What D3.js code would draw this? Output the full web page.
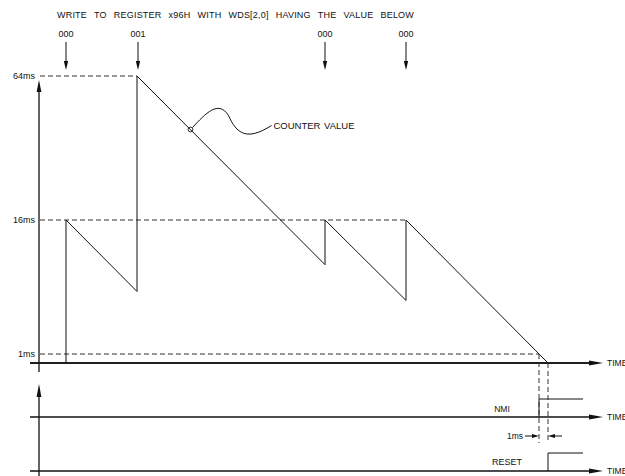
<!DOCTYPE html>
<html>
<head>
<meta charset="utf-8">
<script src="https://cdn.jsdelivr.net/npm/d3@7"></script>
<style>
  html, body { margin: 0; padding: 0; background: #fff; }
  svg { display: block; }
  text { font-family: "Liberation Sans", Arial, sans-serif; font-size: 8.5px; fill: #111; }
</style>
</head>
<body>
<svg id="chart" width="625" height="476"></svg>
<script>
// Watchdog counter timing: time in abstract ticks, counter in ms
const writeTimes = [27, 99, 286, 367];
const writeValues = ["000", "001", "000", "000"];
const counterTimes = [27, 27, 98, 98, 286, 286, 367, 367, 509];
const counterValues = [0, 16, 8, 64, 11, 16, 7, 16, 0];
const levelValues = [64, 16, 1];
const levelLabels = ["64ms", "16ms", "1ms"];
const levelEnds = [98, 367, 500];
const nmiTime = 500;
const resetTime = 509;
const signalEnd = 544;
const annotationTime = 151.5;
const title = "WRITE TO REGISTER x96H WITH WDS[2,0] HAVING THE VALUE BELOW";

const svg = d3.select("#chart");
const ink = "#111";

const x = d3.scaleLinear().domain([0, 560]).range([39, 599]);
const y = d3.scaleLinear().domain([0, 1, 16, 64]).range([363, 354, 220, 76]);
const yNmi = d3.scaleLinear().domain([0, 1]).range([417, 399]);
const yReset = d3.scaleLinear().domain([0, 1]).range([471, 453]);

function arrowHead(tipX, tipY, dir, len, half) {
  let p;
  if (dir === "down") p = [[tipX, tipY], [tipX - half, tipY - len], [tipX + half, tipY - len]];
  if (dir === "up") p = [[tipX, tipY], [tipX - half, tipY + len], [tipX + half, tipY + len]];
  if (dir === "right") p = [[tipX, tipY], [tipX - len, tipY - half], [tipX - len, tipY + half]];
  if (dir === "left") p = [[tipX, tipY], [tipX + len, tipY - half], [tipX + len, tipY + half]];
  svg.append("path").attr("d", "M" + p.join("L") + "Z").attr("fill", ink);
}

function line(x1, y1, x2, y2, w, dash) {
  const l = svg.append("line").attr("x1", x1).attr("y1", y1).attr("x2", x2).attr("y2", y2)
    .attr("stroke", ink).attr("stroke-width", w || 1);
  if (dash) l.attr("stroke-dasharray", dash);
  return l;
}

// Widen the gaps between words so a label spans the given width
function spreadWords(sel, width) {
  const natural = sel.node().getComputedTextLength();
  const gaps = (sel.text().match(/ /g) || []).length;
  if (gaps > 0) sel.attr("word-spacing", Math.max(0, (width - natural) / gaps));
}

// Header
const head = svg.append("text").attr("x", 57).attr("y", 18)
  .style("font-size", "9px").attr("letter-spacing", 0.2).text(title);
spreadWords(head, 357);

writeTimes.forEach((t, i) => {
  svg.append("text").attr("x", x(t)).attr("y", 37).attr("text-anchor", "middle")
    .style("font-size", "9px").text(writeValues[i]);
  line(x(t), 42, x(t), 62);
  arrowHead(x(t), 70, "down", 9, 2.2);
});

// Dashed reference levels
levelValues.forEach((v, i) => {
  line(x(0) + 1, y(v), x(levelEnds[i]), y(v), 1, "5,3").attr("stroke", "#333");
  svg.append("text").attr("x", 35).attr("y", y(v) + 3).attr("text-anchor", "end")
    .style("font-size", "9px").text(levelLabels[i]);
});

// Main axes
line(x(0), 90, x(0), 372, 1.3);
arrowHead(x(0), 80, "up", 12, 2.4);
line(x(-9), y(0), x(552), y(0), 1.3);

// Counter trace
const pts = counterTimes.map((t, i) => [x(t), y(counterValues[i])]);
svg.append("path").attr("d", d3.line()(pts)).attr("fill", "none")
  .attr("stroke", ink).attr("stroke-width", 1);

// Counter value annotation
const ax = x(annotationTime), ay = y(64) + (x(annotationTime) - x(98));
svg.append("circle").attr("cx", ax).attr("cy", ay).attr("r", 2.4)
  .attr("fill", "none").attr("stroke", ink).attr("stroke-width", 0.9);
svg.append("path")
  .attr("d", `M${ax + 2},${ay - 2} C${ax + 15},${ay - 16} ${ax + 28},${ay - 30} ${ax + 38},${ay - 14} C${ax + 46},${ay + 4} ${ax + 56},${ay + 12} ${ax + 81},${ay - 4}`)
  .attr("fill", "none").attr("stroke", ink).attr("stroke-width", 1);
const cv = svg.append("text").attr("x", ax + 83).attr("y", ay - 1)
  .style("font-size", "9.5px").text("COUNTER VALUE");
spreadWords(cv, 81);

// Lower axis
line(x(0), 396, x(0), 476, 1.3);
arrowHead(x(0), 384, "up", 13, 2.4);

// Time axis arrows + labels
[y(0), yNmi(0), yReset(0)].forEach(yy => {
  line(x(-9), yy, x(552), yy, 1.3);
  arrowHead(603, yy, "right", 14, 2.6);
  svg.append("text").attr("x", 607).attr("y", yy + 3).text("TIME");
});

// NMI and RESET signals
const nmiPts = [[nmiTime, 0], [nmiTime, 1], [signalEnd, 1]].map(d => [x(d[0]), yNmi(d[1])]);
svg.append("path").attr("d", d3.line()(nmiPts)).attr("fill", "none").attr("stroke", ink).attr("stroke-width", 1);
const rstPts = [[resetTime, 0], [resetTime, 1], [signalEnd, 1]].map(d => [x(d[0]), yReset(d[1])]);
svg.append("path").attr("d", d3.line()(rstPts)).attr("fill", "none").attr("stroke", ink).attr("stroke-width", 1);
svg.append("text").attr("x", 502).attr("y", 412).attr("text-anchor", "middle").text("NMI");
svg.append("text").attr("x", 507).attr("y", 465).attr("text-anchor", "middle")
  .style("font-size", "9px").text("RESET");

// Vertical guides down from the counter
line(x(nmiTime), y(1), x(nmiTime), 443, 1, "5,3").attr("stroke", "#333");
line(x(resetTime), y(0), x(resetTime), 443, 1, "5,3").attr("stroke", "#333");

// 1ms dimension
svg.append("text").attr("x", 523).attr("y", 439).attr("text-anchor", "end").text("1ms");
line(525, 436, 534, 436);
arrowHead(x(nmiTime), 436, "right", 7, 2);
line(x(resetTime) + 5, 436, 562, 436);
arrowHead(x(resetTime), 436, "left", 7, 2);
</script>
</body>
</html>
